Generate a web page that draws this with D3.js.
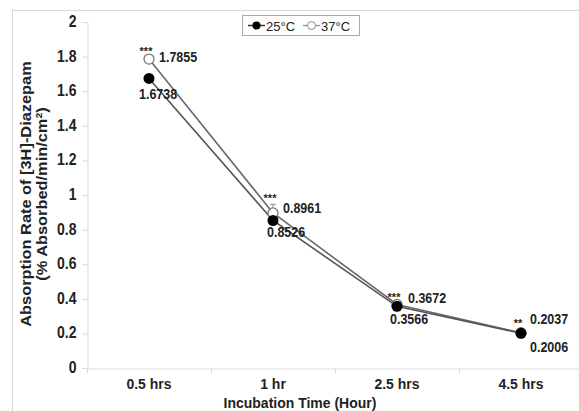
<!DOCTYPE html>
<html>
<head>
<meta charset="utf-8">
<script src="https://cdn.jsdelivr.net/npm/d3@7"></script>
<style>
  body { margin: 0; background: #fff; }
  svg { display: block; font-family: "Liberation Sans", Arial, sans-serif; }
</style>
</head>
<body>
<div id="chart"></div>
<script>
// data
var categories = ["0.5 hrs", "1 hr", "2.5 hrs", "4.5 hrs"];
var temp25 = [1.6738, 0.8526, 0.3566, 0.2006];
var temp37 = [1.7855, 0.8961, 0.3672, 0.2037];
var err37 = [0.01, 0.05, 0.01, 0.01];
var stars = ["***", "***", "***", "**"];
var yTicks = [0, 0.2, 0.4, 0.6, 0.8, 1, 1.2, 1.4, 1.6, 1.8, 2];

var W = 579, H = 411;
var margin = {top: 22, left: 87, bottom: 43};

var svg = d3.select("#chart").append("svg")
    .attr("width", W)
    .attr("height", H);

// the source picture is a bit taller than wide, so stretch text vertically
function stretch(sel, k) {
  sel.attr("transform", function() {
    var t = d3.select(this), x0 = +t.attr("x") || 0, y0 = +t.attr("y") || 0;
    return "translate(" + x0 + "," + y0 + ") scale(1," + k + ") translate(" + (-x0) + "," + (-y0) + ")";
  });
}

// outer chart border (cropped on right / bottom)
svg.append("rect")
    .attr("x", 12.5).attr("y", 10.5)
    .attr("width", W + 20).attr("height", H + 20)
    .attr("fill", "none")
    .attr("stroke", "#d9d9d9");

var x = d3.scaleBand()
    .domain(categories)
    .range([margin.left, margin.left + 124 * 4]);

var y = d3.scaleLinear()
    .domain([0, 2])
    .range([H - margin.bottom, margin.top]);

// y axis
var yAxis = svg.append("g")
    .attr("transform", "translate(" + (margin.left + 0.5) + ",0)")
    .call(d3.axisLeft(y).tickValues(yTicks).tickSize(5).tickPadding(6)
      .tickFormat(function(d) { return d3.format("~g")(d); }));
yAxis.select(".domain").attr("stroke", "#d9d9d9");
yAxis.selectAll(".tick line").attr("stroke", "#d9d9d9");
yAxis.selectAll(".tick text")
    .attr("fill", "#222")
    .style("font-size", "14px")
    .style("font-weight", "bold")
    .attr("transform", "scale(1,1.15)")
    .attr("y", -0.5);

// x axis with ticks between categories
var xAxis = svg.append("g")
    .attr("transform", "translate(0," + (y(0) + 0.5) + ")")
    .call(d3.axisBottom(x).tickSize(0).tickPadding(9));
xAxis.select(".domain").attr("stroke", "#d9d9d9");
xAxis.selectAll(".tick text")
    .attr("fill", "#222")
    .style("font-size", "14px")
    .style("font-weight", "bold")
    .attr("transform", "scale(1,1.1)");
xAxis.selectAll(".sep")
    .data(categories)
  .enter().append("line")
    .attr("x1", function(d) { return x(d) + 0.5; })
    .attr("x2", function(d) { return x(d) + 0.5; })
    .attr("y1", 0).attr("y2", 5)
    .attr("stroke", "#d9d9d9");

// axis titles
svg.append("text")
    .attr("x", 300).attr("y", 408)
    .attr("text-anchor", "middle")
    .attr("fill", "#222")
    .style("font-size", "14px").style("font-weight", "bold")
    .text("Incubation Time (Hour)")
    .call(stretch, 1.1);

var yt = svg.append("text")
    .attr("transform", "translate(31,194) rotate(-90) scale(1.17,1)")
    .attr("text-anchor", "middle")
    .attr("fill", "#222")
    .style("font-size", "14px").style("font-weight", "bold");
yt.append("tspan").attr("x", 0).attr("dy", 0).text("Absorption Rate of [3H]-Diazepam");
yt.append("tspan").attr("x", 0).attr("dy", 16).text("(% Absorbed/min/cm");
yt.append("tspan").attr("dy", -5).style("font-size", "9px").text("2");
yt.append("tspan").attr("dy", 5).text(")");

var cx = function(i) { return x(categories[i]) + x.bandwidth() / 2; };
var line = d3.line()
    .x(function(d, i) { return cx(i); })
    .y(function(d) { return y(d); });

// series lines
svg.append("path").datum(temp37)
    .attr("d", line).attr("fill", "none")
    .attr("stroke", "#6a6a6a").attr("stroke-width", 1.6);
svg.append("path").datum(temp25)
    .attr("d", line).attr("fill", "none")
    .attr("stroke", "#555").attr("stroke-width", 1.6);

// error bars for 37 C
svg.selectAll(".err")
    .data(temp37)
  .enter().append("path")
    .attr("d", function(d, i) {
      var x0 = cx(i), y1 = y(d + err37[i]);
      return "M" + x0 + "," + y(d) + "V" + y1 + "M" + (x0 - 3) + "," + y1 + "H" + (x0 + 3);
    })
    .attr("stroke", "#888").attr("fill", "none");

// markers: open 37 C first, filled 25 C on top
svg.selectAll(".m37")
    .data(temp37)
  .enter().append("circle")
    .attr("cx", function(d, i) { return cx(i); })
    .attr("cy", function(d) { return y(d); })
    .attr("r", 5)
    .attr("fill", "#fff")
    .attr("stroke", "#777").attr("stroke-width", 1.3);

svg.selectAll(".m25")
    .data(temp25)
  .enter().append("circle")
    .attr("cx", function(d, i) { return cx(i); })
    .attr("cy", function(d) { return y(d); })
    .attr("r", 5.5)
    .attr("fill", "#000");

// value labels
var lab37 = [[10, 3], [10, 0], [11, -1], [9, -9]];
var lab25 = [[-10, 21], [-6, 17], [-7, 18], [9, 19]];
var lbl = function(d, i, off) {
  svg.append("text")
      .attr("x", cx(i) + off[i][0])
      .attr("y", y(d) + off[i][1])
      .attr("fill", "#222")
      .style("font-size", "12.5px").style("font-weight", "bold")
      .text(d3.format(".4f")(d))
      .call(stretch, 1.12);
};
temp37.forEach(function(d, i) { lbl(d, i, lab37); });
temp25.forEach(function(d, i) { lbl(d, i, lab25); });

// significance stars
svg.selectAll(".star")
    .data(stars)
  .enter().append("text")
    .attr("x", function(d, i) { return cx(i) - 3; })
    .attr("y", function(d, i) { return y(temp37[i] + err37[i]) - (i == 3 ? 4 : 2); })
    .attr("text-anchor", "middle")
    .attr("fill", "#222")
    .style("font-size", "11px").style("font-weight", "bold")
    .text(function(d) { return d; });

// legend
var lg = svg.append("g").attr("transform", "translate(242,15)");
lg.append("rect")
    .attr("x", 0.5).attr("y", 0.5).attr("width", 117).attr("height", 20)
    .attr("fill", "#fff").attr("stroke", "#aaa");
lg.append("line").attr("x1", 6).attr("x2", 23).attr("y1", 10.5).attr("y2", 10.5)
    .attr("stroke", "#333").attr("stroke-width", 1.5);
lg.append("circle").attr("cx", 14.5).attr("cy", 10.5).attr("r", 4).attr("fill", "#000");
lg.append("text").attr("x", 24).attr("y", 15.5)
    .attr("fill", "#222").style("font-size", "13px").text("25°C");
lg.append("line").attr("x1", 61).attr("x2", 78).attr("y1", 10.5).attr("y2", 10.5)
    .attr("stroke", "#888").attr("stroke-width", 1.2);
lg.append("circle").attr("cx", 69.5).attr("cy", 10.5).attr("r", 4)
    .attr("fill", "#fff").attr("stroke", "#888");
lg.append("text").attr("x", 79).attr("y", 15.5)
    .attr("fill", "#222").style("font-size", "13px").text("37°C");
</script>
</body>
</html>
